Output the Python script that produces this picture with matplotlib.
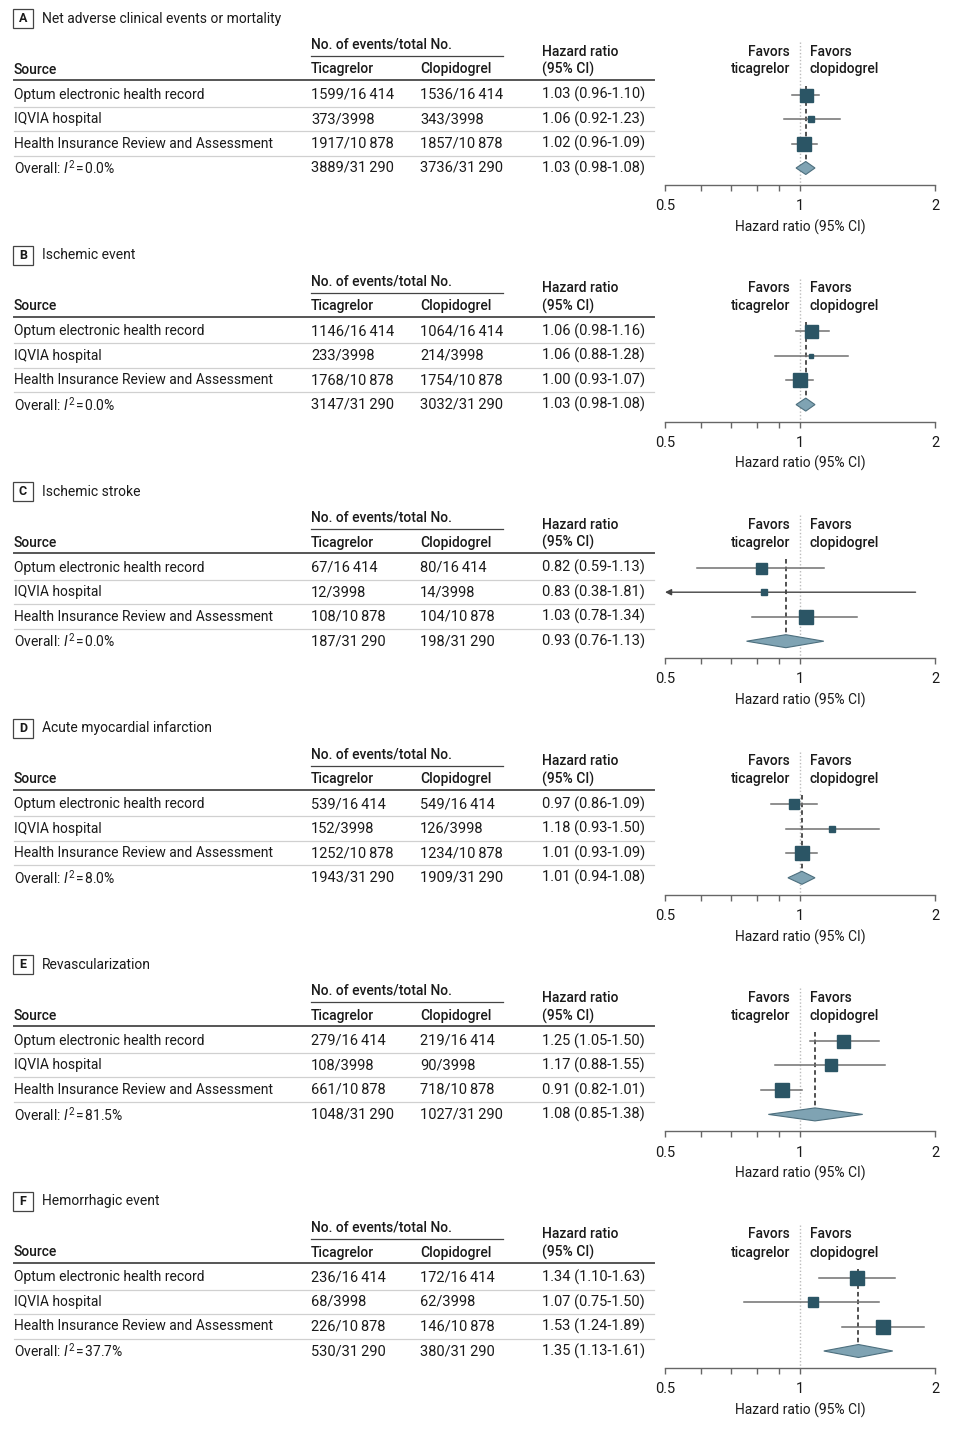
import matplotlib
matplotlib.use('Agg')
import matplotlib.pyplot as plt
from matplotlib.patches import Rectangle, Polygon

# fonts
plt.rcParams['font.family'] = ['Roboto', 'DejaVu Sans']
plt.rcParams['mathtext.fontset'] = 'custom'
plt.rcParams['mathtext.rm'] = 'Roboto'
plt.rcParams['mathtext.it'] = 'Roboto:italic'

# data
panel_letters = ['A', 'B', 'C', 'D', 'E', 'F']
panel_titles = ['Net adverse clinical events or mortality', 'Ischemic event', 'Ischemic stroke',
                'Acute myocardial infarction', 'Revascularization', 'Hemorrhagic event']
sources = ['Optum electronic health record', 'IQVIA hospital', 'Health Insurance Review and Assessment']
totals = [16414, 3998, 10878, 31290]

tica_events = [[1599, 373, 1917, 3889],
               [1146, 233, 1768, 3147],
               [67, 12, 108, 187],
               [539, 152, 1252, 1943],
               [279, 108, 661, 1048],
               [236, 68, 226, 530]]
clop_events = [[1536, 343, 1857, 3736],
               [1064, 214, 1754, 3032],
               [80, 14, 104, 198],
               [549, 126, 1234, 1909],
               [219, 90, 718, 1027],
               [172, 62, 146, 380]]
hr = [[1.03, 1.06, 1.02, 1.03],
      [1.06, 1.06, 1.00, 1.03],
      [0.82, 0.83, 1.03, 0.93],
      [0.97, 1.18, 1.01, 1.01],
      [1.25, 1.17, 0.91, 1.08],
      [1.34, 1.07, 1.53, 1.35]]
ci_lo = [[0.96, 0.92, 0.96, 0.98],
         [0.98, 0.88, 0.93, 0.98],
         [0.59, 0.38, 0.78, 0.76],
         [0.86, 0.93, 0.93, 0.94],
         [1.05, 0.88, 0.82, 0.85],
         [1.10, 0.75, 1.24, 1.13]]
ci_hi = [[1.10, 1.23, 1.09, 1.08],
         [1.16, 1.28, 1.07, 1.08],
         [1.13, 1.81, 1.34, 1.13],
         [1.09, 1.50, 1.09, 1.08],
         [1.50, 1.55, 1.01, 1.38],
         [1.63, 1.50, 1.89, 1.61]]
i2 = ['0.0', '0.0', '0.0', '8.0', '81.5', '37.7']

# square side (px), study weights
sq_px = [[13, 6, 14], [13, 5, 14], [11, 6, 14], [10, 6, 14], [13, 12, 14], [14, 10, 14]]

SQ = '#2b5565'
DIA = '#7fa3b3'
DIA_E = '#4d6f7e'
CI_C = '#707070'
TXT = '#1a1a1a'
FS = 10        # words
FSN = 10.5     # number columns
HW = 'medium'


def fmt(n):
    if n >= 10000:
        return '{:,}'.format(n).replace(',', '\u2009')
    return str(n)


W, H = 959, 1431
fig = plt.figure(figsize=(W / 100, H / 100), dpi=100)
ax0 = fig.add_axes([0, 0, 1, 1])
ax0.set_xlim(0, W)
ax0.set_ylim(H, 0)
ax0.axis('off')

step = 236.6
rows_y = [94.5, 119, 143.5, 168]

for k in range(6):
    o = k * step
    # panel label and title
    ax0.add_patch(Rectangle((13, 9 + o), 20, 19, fill=False, ec='#444444', lw=0.9))
    ax0.text(23, 18.5 + o, panel_letters[k], ha='center', va='center', fontsize=9,
             fontweight='bold', color=TXT)
    ax0.text(42, 18.5 + o, panel_titles[k], ha='left', va='center', fontsize=FS, color=TXT)

    # headers
    ax0.text(311, 44.5 + o, 'No. of events/total No.', ha='left', va='center', fontsize=FS,
             fontweight=HW, color=TXT)
    ax0.plot([311, 503], [56 + o, 56 + o], color='#444444', lw=0.9)
    ax0.text(542, 51.5 + o, 'Hazard ratio', ha='left', va='center', fontsize=FS, fontweight=HW, color=TXT)
    ax0.text(542, 69.5 + o, '(95% CI)', ha='left', va='center', fontsize=FS, fontweight=HW, color=TXT)
    ax0.text(14, 69.5 + o, 'Source', ha='left', va='center', fontsize=FS, fontweight=HW, color=TXT)
    ax0.text(311, 69.5 + o, 'Ticagrelor', ha='left', va='center', fontsize=FS, fontweight=HW, color=TXT)
    ax0.text(420, 69.5 + o, 'Clopidogrel', ha='left', va='center', fontsize=FS, fontweight=HW, color=TXT)
    ax0.plot([14, 654], [80 + o, 80 + o], color='#555555', lw=1.4)

    for j in range(4):
        y = rows_y[j] + o
        if j < 3:
            label = sources[j]
        else:
            label = 'Overall: $I^{2}$\u200a=\u200a' + i2[k] + '%'
        ax0.text(14, y, label, ha='left', va='center', fontsize=FS, color=TXT)
        ax0.text(311, y, fmt(tica_events[k][j]) + '/' + fmt(totals[j]), ha='left', va='center',
                 fontsize=FSN, color=TXT)
        ax0.text(420, y, fmt(clop_events[k][j]) + '/' + fmt(totals[j]), ha='left', va='center',
                 fontsize=FSN, color=TXT)
        ax0.text(542, y, '{:.2f} ({:.2f}-{:.2f})'.format(hr[k][j], ci_lo[k][j], ci_hi[k][j]),
                 ha='left', va='center', fontsize=FSN, color=TXT)
        if j < 3:
            yl = y + 12
            ax0.plot([14, 654], [yl, yl], color='#d0d0d0', lw=0.9)

    # favors text
    ax0.text(790, 51.5 + o, 'Favors', ha='right', va='center', fontsize=FS, fontweight=HW, color=TXT)
    ax0.text(790, 69.5 + o, 'ticagrelor', ha='right', va='center', fontsize=FS, fontweight=HW, color=TXT)
    ax0.text(810, 51.5 + o, 'Favors', ha='left', va='center', fontsize=FS, fontweight=HW, color=TXT)
    ax0.text(810, 69.5 + o, 'clopidogrel', ha='left', va='center', fontsize=FS, fontweight=HW, color=TXT)

    # forest axes
    top, bot = 40 + o, 185 + o
    ax = fig.add_axes([665 / W, 1 - bot / H, 270 / W, (bot - top) / H])
    ax.patch.set_alpha(0)
    ax.set_xscale('log')
    ax.set_xlim(0.5, 2)
    ax.set_ylim(bot, top)
    for s in ['top', 'left', 'right']:
        ax.spines[s].set_visible(False)
    ax.spines['bottom'].set_color('#666666')
    ax.spines['bottom'].set_linewidth(1.0)
    ax.set_yticks([])
    ax.set_xticks([0.5, 1, 2])
    ax.set_xticklabels(['0.5', '1', '2'])
    ax.set_xticks([0.6, 0.7, 0.8, 0.9], minor=True)
    ax.set_xticklabels([], minor=True)
    ax.tick_params(axis='x', which='both', length=4, width=1, color='#666666', direction='out',
                   labelsize=FSN, labelcolor=TXT, pad=6.2)
    ax.set_xlabel('Hazard ratio (95% CI)', fontsize=FS, color=TXT, labelpad=4.5)

    # reference line at 1
    ax.plot([1, 1], [top + 2, bot], color='#bbbbbb', lw=1, ls=(0, (1, 1.5)), zorder=1)
    # dashed line at overall estimate
    ax.plot([hr[k][3], hr[k][3]], [rows_y[0] + o - 9, rows_y[3] + o - 6], color='#222222',
            lw=1.1, ls=(0, (3, 2)), zorder=2)

    for j in range(3):
        y = rows_y[j] + o
        lo, hi = ci_lo[k][j], ci_hi[k][j]
        if lo < 0.5:
            ax.annotate('', xy=(0.5, y), xytext=(min(hi, 2), y),
                        arrowprops=dict(arrowstyle='-|>', color='#444444', lw=1,
                                        mutation_scale=9, shrinkA=0, shrinkB=0), zorder=3)
        else:
            ax.plot([lo, min(hi, 2)], [y, y], color=CI_C, lw=1.1, zorder=3)
        ax.plot([hr[k][j]], [y], marker='s', ms=sq_px[k][j] * 0.72, color=SQ, mec=SQ, zorder=4)

    # diamond for overall
    y = rows_y[3] + o
    dia = Polygon([(ci_lo[k][3], y), (hr[k][3], y - 6.5), (ci_hi[k][3], y), (hr[k][3], y + 6.5)],
                  closed=True, fc=DIA, ec=DIA_E, lw=0.8, zorder=4)
    ax.add_patch(dia)

fig.savefig('out.png', dpi=100)
